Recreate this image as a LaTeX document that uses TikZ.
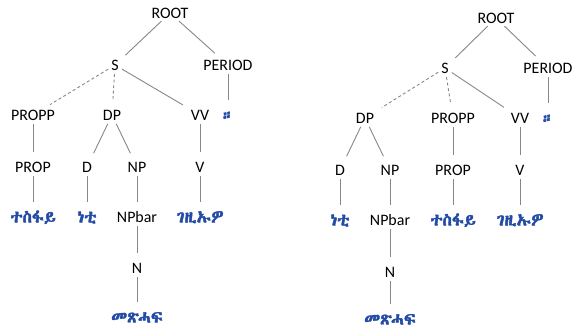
\documentclass[tikz,border=0pt]{standalone}
\usepackage{fontspec}
\setmainfont{Carlito}
\newfontfamily\eth{Abyssinica SIL}[FakeBold=2.5]
\definecolor{ethblue}{RGB}{35,75,165}
\definecolor{edgegray}{RGB}{135,135,135}
\tikzset{
  lab/.style={inner sep=0pt, text height=11bp, text depth=0pt, font=\fontsize{16}{19}\selectfont},
  word/.style={inner sep=0pt, text height=11bp, text depth=0pt, text=ethblue, font=\eth\fontsize{17}{20}\selectfont},
  edge/.style={draw=edgegray, line width=0.9bp, shorten <=3.5bp, shorten >=9bp},
  dedge/.style={edge, dash pattern=on 3bp off 2.5bp}
}
\begin{document}
\begin{tikzpicture}[x=1bp, y=-1bp]
\useasboundingbox (0,0) rectangle (572,330);
% left tree
\node[lab] (lroot) at (170,13) {ROOT};
\node[lab] (ls) at (115,65) {S};
\node[lab] (lper) at (228,65) {PERIOD};
\node[lab] (lpropp) at (33,115) {PROPP};
\node[lab] (ldp) at (112,115) {DP};
\node[lab] (lvv) at (200,115) {VV};
\node[word] (lstop) at (228,115) {።};
\node[lab] (lprop) at (33,167) {PROP};
\node[lab] (ld) at (87,167) {D};
\node[lab] (lnp) at (137,167) {NP};
\node[lab] (lv) at (200,167) {V};
\node[word] (lw1) at (33,217) {ተስፋይ};
\node[word] (lw2) at (87,217) {ነቲ};
\node[lab] (lnpbar) at (137,217) {NPbar};
\node[word] (lw4) at (200,217) {ገዚኡዎ};
\node[lab] (ln) at (137,268) {N};
\node[word] (lw5) at (137,317) {መጽሓፍ};
\draw[edge] (lroot) -- (ls);
\draw[edge] (lroot) -- (lper);
\draw[dedge] (ls) -- (lpropp);
\draw[dedge] (ls) -- (ldp);
\draw[edge] (ls) -- (lvv);
\draw[edge] (lper) -- (lstop);
\draw[edge] (lpropp) -- (lprop);
\draw[edge] (ldp) -- (ld);
\draw[edge] (ldp) -- (lnp);
\draw[edge] (lvv) -- (lv);
\draw[edge] (lprop) -- (lw1);
\draw[edge] (ld) -- (lw2);
\draw[edge] (lnp) -- (lnpbar);
\draw[edge] (lv) -- (lw4);
\draw[edge] (lnpbar) -- (ln);
\draw[edge] (ln) -- (lw5);
% right tree
\node[lab] (rroot) at (496,18) {ROOT};
\node[lab] (rs) at (445,68) {S};
\node[lab] (rper) at (548,68) {PERIOD};
\node[lab] (rdp) at (365,118) {DP};
\node[lab] (rpropp) at (453,118) {PROPP};
\node[lab] (rvv) at (520,118) {VV};
\node[word] (rstop) at (548,118) {።};
\node[lab] (rd) at (340,170) {D};
\node[lab] (rnp) at (390,170) {NP};
\node[lab] (rprop) at (453,170) {PROP};
\node[lab] (rv) at (520,170) {V};
\node[word] (rw1) at (340,220) {ነቲ};
\node[lab] (rnpbar) at (390,220) {NPbar};
\node[word] (rw3) at (453,220) {ተስፋይ};
\node[word] (rw4) at (520,220) {ገዚኡዎ};
\node[lab] (rn) at (390,272) {N};
\node[word] (rw5) at (390,319) {መጽሓፍ};
\draw[edge] (rroot) -- (rs);
\draw[edge] (rroot) -- (rper);
\draw[dedge] (rs) -- (rdp);
\draw[dedge] (rs) -- (rpropp);
\draw[edge] (rs) -- (rvv);
\draw[edge] (rper) -- (rstop);
\draw[edge] (rdp) -- (rd);
\draw[edge] (rdp) -- (rnp);
\draw[edge] (rpropp) -- (rprop);
\draw[edge] (rvv) -- (rv);
\draw[edge] (rd) -- (rw1);
\draw[edge] (rnp) -- (rnpbar);
\draw[edge] (rprop) -- (rw3);
\draw[edge] (rv) -- (rw4);
\draw[edge] (rnpbar) -- (rn);
\draw[edge] (rn) -- (rw5);
\end{tikzpicture}
\end{document}
